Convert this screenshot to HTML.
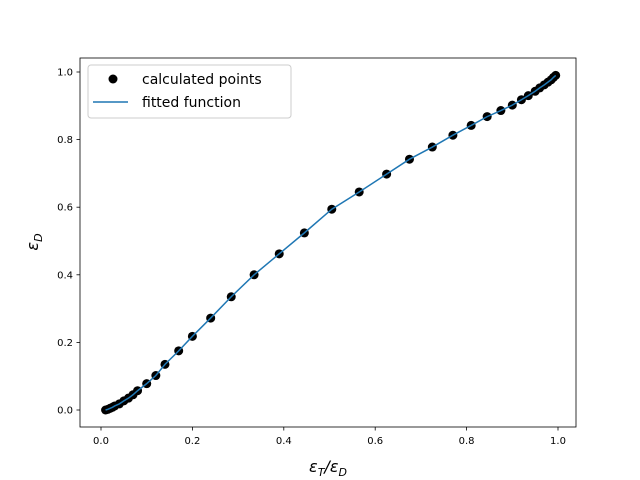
<!DOCTYPE html>
<html><head><meta charset="utf-8"><style>
body{margin:0;background:#fff}
svg{display:block;font-family:"DejaVu Sans","Liberation Sans",sans-serif}
</style></head><body>
<svg id="chart" width="640" height="480">
<rect x="0" y="0" width="640" height="480" fill="#fff"/>
<g id="plot"></g>
</svg>
<script>
const xVals=[0.01,0.015,0.02,0.025,0.03,0.04,0.05,0.06,0.07,0.08,0.1,0.12,0.14,0.17,0.2,0.24,0.285,0.335,0.39,0.445,0.505,0.565,0.625,0.675,0.725,0.77,0.81,0.845,0.875,0.9,0.92,0.935,0.95,0.96,0.97,0.978,0.985,0.99,0.995];
const yVals=[0.0,0.002,0.005,0.008,0.012,0.018,0.027,0.035,0.045,0.057,0.078,0.102,0.135,0.175,0.218,0.272,0.335,0.4,0.462,0.524,0.594,0.645,0.698,0.742,0.778,0.813,0.842,0.868,0.886,0.902,0.918,0.93,0.943,0.953,0.962,0.97,0.977,0.984,0.99];
const xTicks=[0,0.2,0.4,0.6,0.8,1.0];
const yTicks=[0,0.2,0.4,0.6,0.8,1.0];
const xTickLabels=["0.0","0.2","0.4","0.6","0.8","1.0"];
const yTickLabels=["0.0","0.2","0.4","0.6","0.8","1.0"];
const L=80,R=576,T=58,B=427;
const sx=v=>101+v*457;
const sy=v=>410-v*338;
const NS="http://www.w3.org/2000/svg";
const g=document.getElementById('plot');
function mk(t,a,txt){const e=document.createElementNS(NS,t);for(const k in a)e.setAttribute(k,a[k]);if(txt!==undefined)e.textContent=txt;g.appendChild(e);return e;}
xTicks.forEach((v,i)=>{
 const t=mk('line',{x1:sx(v),x2:sx(v),y1:B,y2:B+3.5,stroke:'#000','stroke-width':0.8});
 
 
 const l=mk('text',{x:sx(v),y:B+17,'text-anchor':'middle','font-size':10},xTickLabels[i]);
 
 
});
yTicks.forEach((v,i)=>{
 const t=mk('line',{x1:L-3.5,x2:L,y1:sy(v),y2:sy(v),stroke:'#000','stroke-width':0.8});
 
 
 const l=mk('text',{x:L-7,y:sy(v)+3.5,'text-anchor':'end','font-size':10},yTickLabels[i]);
 
 
});
xVals.forEach((v,i)=>{
 const c=mk('circle',{cx:sx(v),cy:sy(yVals[i]),r:4.5,fill:'#000'});
 
 
});
const ln=mk('polyline',{points:xVals.map((v,i)=>sx(v)+','+sy(yVals[i])).join(' '),fill:'none',stroke:'#1f77b4','stroke-width':1.5});


const fr=mk('rect',{x:L,y:T,width:R-L,height:B-T,fill:'none',stroke:'#000','stroke-width':0.8});


const xt=mk('text',{x:(L+R)/2,y:472,'text-anchor':'middle','font-size':16,'font-style':'italic'});
xt.innerHTML='ε<tspan font-size="11" dy="4">T</tspan><tspan dy="-4">/ε</tspan><tspan font-size="11" dy="4">D</tspan>';


const yt=mk('text',{transform:'translate(38,242) rotate(-90)','text-anchor':'middle','font-size':16,'font-style':'italic'});
yt.innerHTML='ε<tspan font-size="11" dy="4">D</tspan>';


const lg=mk('rect',{x:88,y:65,width:203,height:53,rx:3,fill:'#fff','fill-opacity':0.8,stroke:'#ccc','stroke-width':1});


const lc=mk('circle',{cx:113,cy:79,r:4.5,fill:'#000'});


const lt1=mk('text',{x:142,y:84,'font-size':14},'calculated points');


const ll=mk('line',{x1:93,x2:128,y1:102,y2:102,stroke:'#1f77b4','stroke-width':1.5});


const lt2=mk('text',{x:142,y:107,'font-size':14},'fitted function');


</script>
</body></html>
